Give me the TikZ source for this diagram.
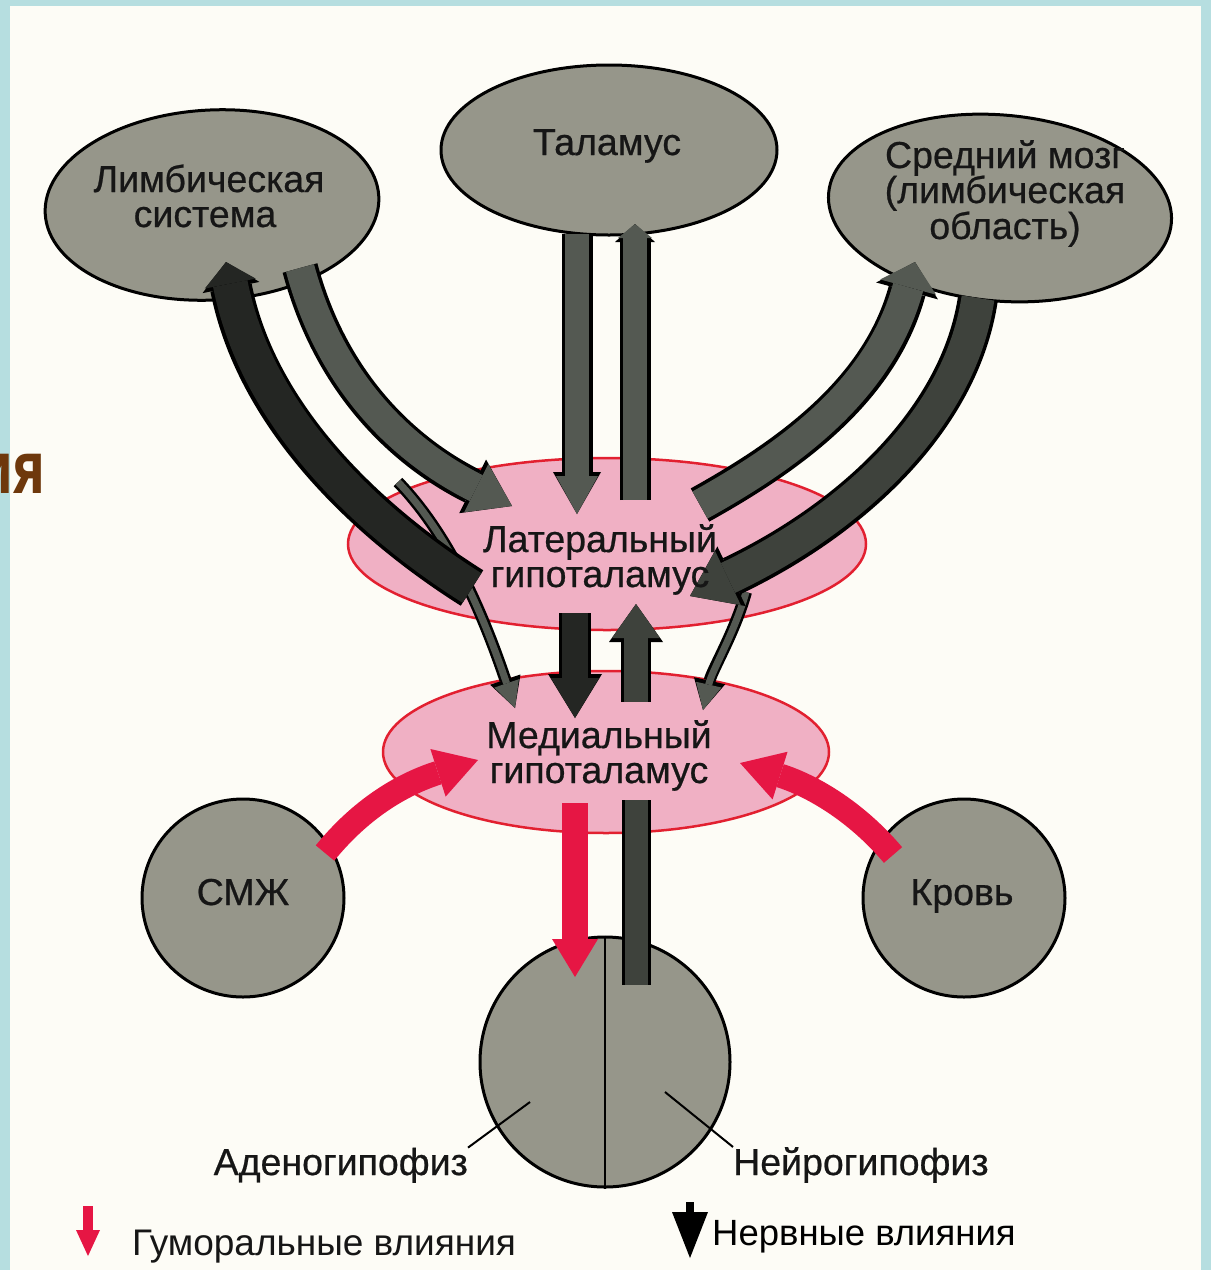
\documentclass[tikz,border=0pt]{standalone}
\usepackage{fontspec}
\setmainfont{Liberation Sans}
\newfontfamily\labelfont[FakeBold=0.6]{Liberation Sans}
\newfontfamily\slidefont{Open Sans}
\usetikzlibrary{shapes.geometric,arrows.meta}
\definecolor{frameblue}{RGB}{182,222,224}
\definecolor{paper}{RGB}{253,252,246}
\definecolor{blobgray}{RGB}{150,150,138}
\definecolor{pinkfill}{RGB}{240,176,196}
\definecolor{pinkedge}{RGB}{226,32,48}
\definecolor{humor}{RGB}{230,22,68}
\definecolor{darkband}{RGB}{62,66,60}
\definecolor{midband}{RGB}{84,89,82}
\definecolor{blackband}{RGB}{36,38,35}
\definecolor{txt}{RGB}{22,22,22}
\definecolor{brownt}{RGB}{110,56,12}
\tikzset{
  blob/.style={ellipse, draw=black, line width=3pt, fill=blobgray, inner sep=0pt},
  hypo/.style={ellipse, draw=pinkedge, line width=2.5pt, fill=pinkfill, inner sep=0pt},
  lbl/.style={font=\labelfont\fontsize{37.5}{37.5}\selectfont, text=txt, inner sep=0pt, anchor=base},
  legendtxt/.style={font=\fontsize{37}{37}\selectfont, inner sep=0pt, anchor=base west},
  rim/.style={draw=black, line width=#1},
  core/.style={line width=#1},
  leader/.style={draw=black, line width=2pt}
}
\begin{document}
\begin{tikzpicture}[x=1pt,y=-1pt]
\useasboundingbox (0,0) rectangle (1211,1270);
\fill[frameblue] (0,0) rectangle (1211,1270);
\fill[paper] (10,6) rectangle (1201,1270);

% ---- shapes ----
\node[blob, minimum width=334pt, minimum height=190pt, rotate=3] (limb) at (212,205) {};
\node[blob, minimum width=336pt, minimum height=170pt] (thal) at (609,150) {};
\node[blob, minimum width=344pt, minimum height=186pt, rotate=-5] (mid) at (1000,208) {};
\node[hypo, minimum width=518pt, minimum height=172pt] (lat) at (607,544) {};
\node[hypo, minimum width=446pt, minimum height=162pt] (med) at (606,752) {};
\node[blob, minimum width=202pt, minimum height=198pt] (csf) at (243,898) {};
\node[blob, minimum width=202pt, minimum height=198pt] (blood) at (964,898) {};
\node[blob, circle, minimum size=250pt] (hyp) at (605,1062) {};
\draw[line width=2.5pt] (hyp.north) -- (hyp.south);

% ---- end points ----
\coordinate (loA) at (472,588);  \coordinate (loB) at (226,262);
\coordinate (liA) at (300,268);  \coordinate (liB) at (512,506);
\coordinate (ltA) at (398,482);  \coordinate (ltB) at (515,708);
\coordinate (riA) at (700,505);  \coordinate (riB) at (915,262);
\coordinate (roA) at (978,298);  \coordinate (roB) at (690,596);
\coordinate (rtA) at (746,592);  \coordinate (rtB) at (703,710);
\coordinate (tlA) at (577,234);  \coordinate (tlB) at (577,514);
\coordinate (trA) at (635,500);  \coordinate (trB) at (635,224);
\coordinate (mdA) at (575,613);  \coordinate (mdB) at (575,718);
\coordinate (muA) at (636,702);  \coordinate (muB) at (636,604);
\coordinate (rdA) at (575,803);  \coordinate (rdB) at (575,977);
\coordinate (ndA) at (636,800);  \coordinate (ndB) at (636,985);
\coordinate (csA) at (325,853);  \coordinate (csB) at (478,760);
\coordinate (blA) at (893,855);  \coordinate (blB) at (740,763);

% ---- left bands ----
\draw[rim=12pt, -{Triangle[width=32pt,length=30pt,line width=0pt]}] (ltA) .. controls (452,538) and (485,620) .. (ltB);
\draw[midband, core=7pt, -{Triangle[width=26pt,length=26pt,line width=0pt]}] (ltA) .. controls (452,538) and (485,620) .. (ltB);
\draw[rim=42pt, -{Triangle[width=58pt,length=26pt,line width=0pt]}] (loA) .. controls (372,525) and (257,420) .. (loB);
\draw[blackband, core=35pt, -{Triangle[width=52pt,length=22pt,line width=0pt]}] (loA) .. controls (372,525) and (257,420) .. (loB);
\draw[rim=36pt, -{Triangle[width=60pt,length=44pt,line width=0pt]}] (liA) .. controls (330,380) and (400,450) .. (liB);
\draw[midband, core=29pt, -{Triangle[width=54pt,length=40pt,line width=0pt]}] (liA) .. controls (330,380) and (400,450) .. (liB);

% ---- right bands ----
\draw[rim=12pt, -{Triangle[width=32pt,length=30pt,line width=0pt]}] (rtA) .. controls (735,632) and (712,670) .. (rtB);
\draw[midband, core=7pt, -{Triangle[width=26pt,length=26pt,line width=0pt]}] (rtA) .. controls (735,632) and (712,670) .. (rtB);
\draw[rim=38pt, -{Triangle[width=64pt,length=30pt,line width=0pt]}] (riA) .. controls (790,455) and (880,390) .. (riB);
\draw[midband, core=31pt, -{Triangle[width=58pt,length=26pt,line width=0pt]}] (riA) .. controls (790,455) and (880,390) .. (riB);
\draw[rim=40pt, -{Triangle[width=66pt,length=46pt,line width=0pt]}] (roA) .. controls (960,420) and (850,520) .. (roB);
\draw[darkband, core=33pt, -{Triangle[width=60pt,length=42pt,line width=0pt]}] (roA) .. controls (960,420) and (850,520) .. (roB);

% ---- thalamus bands ----
\draw[rim=31pt, -{Triangle[width=48pt,length=42pt,line width=0pt]}] (tlA) -- (tlB);
\draw[midband, core=24pt, -{Triangle[width=42pt,length=38pt,line width=0pt]}] (tlA) -- (tlB);
\draw[rim=31pt, -{Triangle[width=40pt,length=18pt,line width=0pt]}] (trA) -- (trB);
\draw[midband, core=24pt, -{Triangle[width=34pt,length=14pt,line width=0pt]}] (trA) -- (trB);

% ---- lateral <-> medial ----
\draw[rim=32pt, -{Triangle[width=54pt,length=44pt,line width=0pt]}] (mdA) -- (mdB);
\draw[blackband, core=26pt, -{Triangle[width=48pt,length=40pt,line width=0pt]}] (mdA) -- (mdB);
\draw[rim=30pt, -{Triangle[width=54pt,length=38pt,line width=0pt]}] (muA) -- (muB);
\draw[darkband, core=24pt, -{Triangle[width=48pt,length=34pt,line width=0pt]}] (muA) -- (muB);

% ---- medial -> hypophysis ----
\draw[humor, core=26pt, -{Triangle[width=46pt,length=38pt,line width=0pt]}] (rdA) -- (rdB);
\draw[rim=29pt] (ndA) -- (ndB);
\draw[darkband, core=23pt] (ndA) -- (ndB);

% ---- humoral inputs ----
\draw[humor, core=24pt, -{Triangle[width=50pt,length=42pt,line width=0pt]}] (csA) .. controls (360,810) and (400,785) .. (csB);
\draw[humor, core=24pt, -{Triangle[width=50pt,length=42pt,line width=0pt]}] (blA) .. controls (855,810) and (810,785) .. (blB);

% ---- labels ----
\node[lbl] (limbT1) at (209,192) {Лимбическая};
\node[lbl] (limbT2) at (205,227) {система};
\node[lbl] (thalT) at (607,155) {Таламус};
\node[lbl] (midT1) at (1005,168) {Средний мозг};
\node[lbl] (midT2) at (1005,203) {(лимбическая};
\node[lbl] (midT3) at (1005,239) {область)};
\node[lbl] (latT1) at (600,552) {Латеральный};
\node[lbl] (latT2) at (600,587) {гипоталамус};
\node[lbl] (medT1) at (599,748) {Медиальный};
\node[lbl] (medT2) at (599,783) {гипоталамус};
\node[lbl] (csfT) at (243,905) {СМЖ};
\node[lbl] (bloodT) at (962,905) {Кровь};
\node[lbl, anchor=base east] (adenoT) at (468,1175) {Аденогипофиз};
\node[lbl, anchor=base west] (neuroT) at (733,1175) {Нейрогипофиз};
\coordinate (adIn) at (530,1102);
\coordinate (neIn) at (665,1092);
\draw[leader] (adIn) -- (adenoT.north east);
\draw[leader] (neIn) -- (neuroT.north west);

% ---- legend ----
\coordinate (lgRa) at (88,1206); \coordinate (lgRb) at (88,1256);
\draw[humor, core=10pt, -{Triangle[width=24pt,length=26pt,line width=0pt]}] (lgRa) -- (lgRb);
\node[legendtxt, text=txt] (lgRT) at (132,1255) {Гуморальные влияния};
\coordinate (lgBa) at (690,1202); \coordinate (lgBb) at (690,1258);
\draw[black, core=8pt, -{Triangle[width=36pt,length=46pt,line width=0pt]}] (lgBa) -- (lgBb);
\node[legendtxt, text=black, font=\fontsize{36.5}{36.5}\selectfont] (lgBT) at (712,1245) {Нервные влияния};

% ---- slide remnant ----
\node[anchor=base east, inner sep=0pt, text=brownt, font=\slidefont\bfseries\fontsize{72}{72}\selectfont] (slideT) at (46,493) {\scalebox{0.75}[1]{ия}};
\end{tikzpicture}
\end{document}
